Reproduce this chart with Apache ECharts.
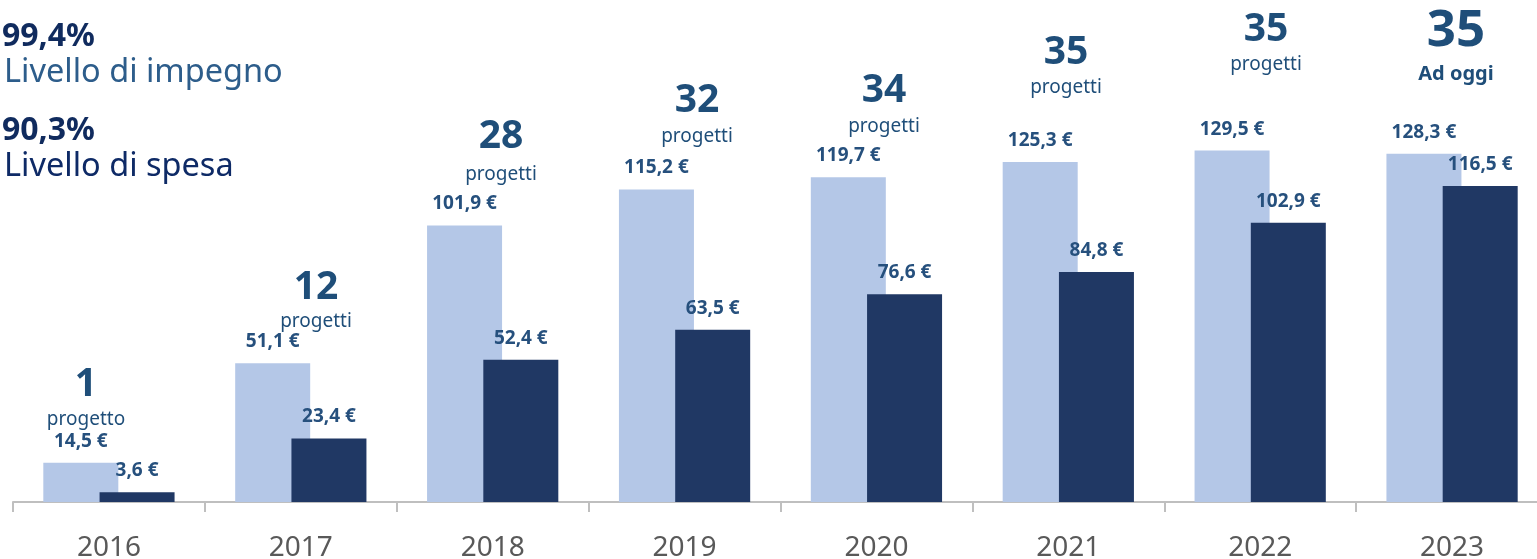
<!DOCTYPE html>
<html>
<head>
<meta charset="utf-8">
<script src="https://cdn.jsdelivr.net/npm/echarts@6/dist/echarts.min.js"></script>
<style>
  html, body { margin: 0; padding: 0; background: #fff; overflow: hidden; }
  #chart { width: 1548px; height: 559px; }
</style>
</head>
<body>
<div id="chart"></div>
<script>
// dati
const years = ['2016', '2017', '2018', '2019', '2020', '2021', '2022', '2023'];
const impegno = [14.5, 51.1, 101.9, 115.2, 119.7, 125.3, 129.5, 128.3];
const spesa = [3.6, 23.4, 52.4, 63.5, 76.6, 84.8, 102.9, 116.5];
const progetti = ['1', '12', '28', '32', '34', '35', '35', '35'];
const progettiNote = ['progetto', 'progetti', 'progetti', 'progetti', 'progetti', 'progetti', 'progetti', 'Ad oggi'];

// posizione delle etichette dei progetti (pixel): [x, y numero, y nota]
const noteLayout = [
  [86, 385, 420], [316, 288, 322], [501, 137, 175], [697, 101, 137],
  [884, 91, 127], [1066, 53, 88], [1266, 30, 65], [1456, 31, 74]
];

const FONT = '"Noto Sans", "Open Sans", sans-serif';
const fmt = v => v.toFixed(1).replace('.', ',') + ' €';

const chart = echarts.init(document.getElementById('chart'));

const leftText = (x, y, text, font, fill) => ({
  type: 'text', x: x, y: y,
  style: { text: text, font: font, fill: fill, textVerticalAlign: 'middle' }
});

const graphics = [
  leftText(2, 37, '99,4%', 'bold 32px ' + FONT, '#102b5e'),
  leftText(4, 73, 'Livello di impegno', '32.5px ' + FONT, '#2d5d8b'),
  leftText(2, 131, '90,3%', 'bold 32px ' + FONT, '#102b5e'),
  leftText(4, 167, 'Livello di spesa', '32.5px ' + FONT, '#0e2a66')
];

progetti.forEach((n, i) => {
  const [x, yN, yT] = noteLayout[i];
  const last = i === progetti.length - 1;
  graphics.push({
    type: 'text', x: x, y: yN,
    style: { text: n, font: 'bold ' + (last ? 51 : 39) + 'px ' + FONT, fill: '#1f4e79', textAlign: 'center', textVerticalAlign: 'middle' }
  });
  graphics.push({
    type: 'text', x: x, y: yT,
    style: { text: progettiNote[i], font: (last ? 'bold 20px ' : '19px ') + FONT, fill: '#1f4e79', textAlign: 'center', textVerticalAlign: 'middle' }
  });
});

const valueLabel = {
  show: true,
  position: 'top',
  distance: 12,
  formatter: p => fmt(p.value),
  color: '#26507d',
  fontFamily: FONT,
  fontWeight: 'bold',
  fontSize: 19
};

const option = {
  animation: false,
  grid: { left: 13, right: 0, top: 0, bottom: 57, outerBoundsMode: 'none', containLabel: false },
  xAxis: {
    type: 'category',
    data: years,
    axisLine: { lineStyle: { color: '#bfbfbf', width: 2 } },
    axisTick: { show: true, length: 10, lineStyle: { color: '#bfbfbf', width: 2 } },
    axisLabel: { color: '#595959', fontSize: 28, fontFamily: FONT, margin: 32 }
  },
  yAxis: {
    type: 'value',
    min: 0,
    max: 185,
    show: false,
    splitLine: { show: false }
  },
  series: [
    {
      name: 'Impegno',
      type: 'bar',
      data: impegno,
      barWidth: 75,
      barGap: '-25%',
      itemStyle: { color: '#b4c7e7' },
      label: valueLabel
    },
    {
      name: 'Spesa',
      type: 'bar',
      data: spesa,
      barWidth: 75,
      itemStyle: { color: '#203864' },
      label: valueLabel
    }
  ],
  graphic: graphics
};

chart.setOption(option);
</script>
</body>
</html>
